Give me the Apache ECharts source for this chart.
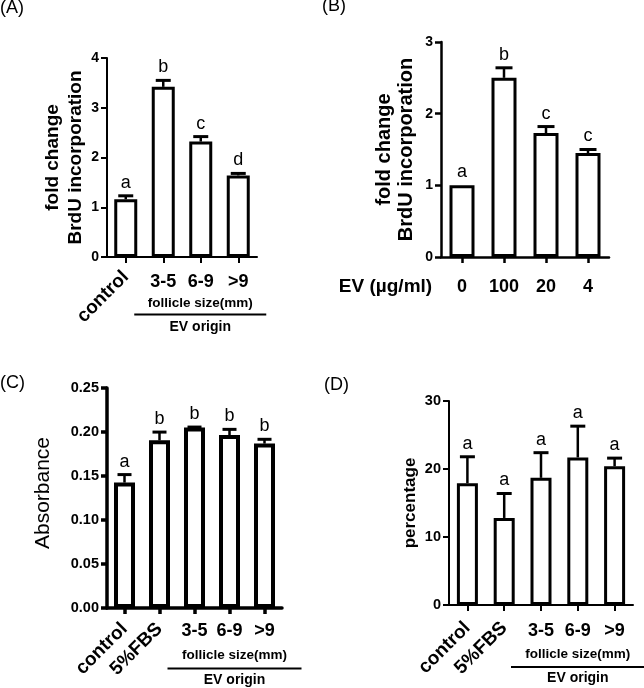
<!DOCTYPE html>
<html><head><meta charset="utf-8">
<script src="https://cdn.jsdelivr.net/npm/echarts@6/dist/echarts.min.js"></script>
<style>html,body{margin:0;padding:0;background:#fff}#c{width:644px;height:688px}</style>
</head><body><div id="c"></div>
<script>
// ---- data ----
const catsA = ['control','3-5','6-9','>9'];
const meanA = [1.16,3.42,2.32,1.64];
const errA  = [0.07,0.13,0.10,0.04];
const letA  = ['a','b','c','d'];

const catsB = ['0','100','20','4'];
const meanB = [1.00,2.50,1.73,1.45];
const errB  = [0,0.14,0.09,0.05];
const letB  = ['a','b','c','c'];

const catsC = ['control','5%FBS','3-5','6-9','>9'];
const meanC = [0.1425,0.1905,0.2050,0.1966,0.1868];
const errC  = [0.0091,0.0094,0.0006,0.0064,0.0049];
const letC  = ['a','b','b','b','b'];

const catsD = ['control','5%FBS','3-5','6-9','>9'];
const meanD = [17.9,12.8,18.7,21.7,20.4];
const errD  = [3.9,3.6,3.7,4.6,1.2];
const letD  = ['a','a','a','a','a'];

const rotatedCats = ['control','5%FBS'];
const FF = '"Liberation Sans", Arial, sans-serif';

// ---- helpers ----
function yAx(gi, max, interval, fmt, fs, lw, name, nameGap, nts) {
  return {type:'value', gridIndex:gi, min:0, max:max, interval:interval,
    splitLine:{show:false},
    axisLine:{show:true, lineStyle:{color:'#000', width:lw}},
    axisTick:{show:true, length:6, lineStyle:{color:'#000', width:lw}},
    axisLabel:{color:'#000', fontWeight:'bold', fontSize:fs, fontFamily:FF, margin:8, formatter:fmt},
    name:name, nameLocation:'middle', nameRotate:90, nameGap:nameGap,
    nameTextStyle:Object.assign({color:'#000', fontFamily:FF}, nts)};
}
function xPrim(gi, cats, lw, fs, margin, rot) {
  return {type:'category', gridIndex:gi, data:cats, position:'bottom', boundaryGap:true,
    axisLine:{show:true, lineStyle:{color:'#000', width:lw}},
    axisTick:{show:true, alignWithLabel:true, length:6, lineStyle:{color:'#000', width:lw}},
    axisLabel:{interval:0, rotate:rot ? 45 : 0, margin:margin, color:'#000', fontWeight:'bold', fontSize:fs, fontFamily:FF,
      formatter: rot ? (v => rotatedCats.includes(v) ? v : '') : (v => v)}};
}
function xSec(gi, cats, fs, margin) {
  return {type:'category', gridIndex:gi, data:cats, position:'bottom', boundaryGap:true,
    axisLine:{show:false}, axisTick:{show:false},
    axisLabel:{interval:0, margin:margin, color:'#000', fontWeight:'bold', fontSize:fs, fontFamily:FF,
      formatter: v => rotatedCats.includes(v) ? '' : v}};
}
function bars(xi, yi, means, bw, brw) {
  return {type:'bar', xAxisIndex:xi, yAxisIndex:yi, data:means, barWidth:bw, z:2,
    itemStyle:{color:'#fff', borderColor:'#000', borderWidth:brw}, silent:true};
}
function errs(xi, yi, means, e, letters, cap, fs) {
  return {type:'custom', xAxisIndex:xi, yAxisIndex:yi, z:3, clip:false, silent:true,
    data: means.map((m,i) => [i, m, m + e[i]]),
    renderItem: (params, api) => {
      const i = params.dataIndex;
      const p0 = api.coord([api.value(0), api.value(1)]);
      const p1 = api.coord([api.value(0), api.value(2)]);
      const ch = [];
      if (e[i] > 0) {
        ch.push({type:'line', shape:{x1:p0[0], y1:p0[1], x2:p1[0], y2:p1[1]}, style:{stroke:'#000', lineWidth:2.5}});
        ch.push({type:'line', shape:{x1:p1[0]-cap/2, y1:p1[1], x2:p1[0]+cap/2, y2:p1[1]}, style:{stroke:'#000', lineWidth:3}});
      }
      ch.push({type:'text', style:{x:p1[0], y:p1[1]-4, text:letters[i], align:'center', verticalAlign:'bottom',
        fontSize:fs, fontFamily:FF, fill:'#000'}});
      return {type:'group', children:ch};
    }};
}

const chart = echarts.init(document.getElementById('c'), null, {renderer:'canvas'});
chart.setOption({
  animation:false,
  backgroundColor:'#fff',
  grid:[
    {left:107, top:58, width:150, height:199},
    {left:441, top:42, width:168, height:215},
    {left:107, top:388, width:175, height:220},
    {left:449, top:401, width:184, height:204}
  ],
  xAxis:[
    xPrim(0, catsA, 2, 19, 17, true),
    xSec(0, catsA, 18, 16),
    xPrim(1, catsB, 2.5, 18, 21, false),
    xPrim(2, catsC, 3.5, 19, 18, true),
    xSec(2, catsC, 18, 14),
    xPrim(3, catsD, 2, 19, 20, true),
    xSec(3, catsD, 18, 17)
  ],
  yAxis:[
    yAx(0, 4, 1, v => v, 14, 2, 'fold change\nBrdU incorporation', 19, {fontSize:19, fontWeight:'bold', lineHeight:23}),
    yAx(1, 3, 1, v => v, 14, 2.5, 'fold change\nBrdU incorporation', 24, {fontSize:20, fontWeight:'bold', lineHeight:22}),
    yAx(2, 0.25, 0.05, v => v.toFixed(2), 14.5, 3.5, 'Absorbance', 53, {fontSize:21, fontWeight:'normal', padding:[0,0,0,10]}),
    yAx(3, 30, 10, v => v, 14.5, 2, 'percentage', 30, {fontSize:17, fontWeight:'bold'})
  ],
  series:[
    bars(0, 0, meanA, 23, 3), errs(0, 0, meanA, errA, letA, 15, 18),
    bars(2, 1, meanB, 25, 3), errs(2, 1, meanB, errB, letB, 17, 18),
    bars(3, 2, meanC, 21, 4), errs(3, 2, meanC, errC, letC, 14, 18),
    bars(5, 3, meanD, 21, 3), errs(5, 3, meanD, errD, letD, 15, 18)
  ]
});

// ---- annotations: panel tags, group brackets ----
function bracket(xi, yi, cats, padL, padR, dText, dLine, dEV) {
  const x1 = chart.convertToPixel({xAxisIndex:xi}, cats[cats.indexOf('3-5')]) - padL;
  const x2 = chart.convertToPixel({xAxisIndex:xi}, cats[cats.length-1]) + padR;
  const y0 = chart.convertToPixel({yAxisIndex:yi}, 0);
  const cx = (x1 + x2) / 2;
  return [
    {type:'text', style:{x:cx, y:y0+dText, text:'follicle size(mm)', align:'center', verticalAlign:'middle',
      fontSize:13.5, fontWeight:'bold', fontFamily:FF, fill:'#000'}},
    {type:'line', shape:{x1:x1, y1:y0+dLine, x2:x2, y2:y0+dLine}, style:{stroke:'#000', lineWidth:2}},
    {type:'text', style:{x:cx, y:y0+dEV, text:'EV origin', align:'center', verticalAlign:'middle',
      fontSize:14, fontWeight:'bold', fontFamily:FF, fill:'#000'}}
  ];
}
function tag(t, x, y) {
  return {type:'text', style:{x:x, y:y, text:t, fontSize:18, fontFamily:FF, fill:'#000', verticalAlign:'top'}};
}
const g = [].concat(
  bracket(0, 0, catsA, 29, 28, 46.5, 57.5, 70.5),
  bracket(4, 2, catsC, 27, 37, 47.5, 60.5, 72.5),
  bracket(6, 3, catsD, 30, 30, 49, 62, 73),
  [tag('(A)', 0, -1), tag('(B)', 322, -3), tag('(C)', 0, 374), tag('(D)', 324, 376),
   {type:'text', style:{x:385.5, y:287, text:'EV (µg/ml)', align:'center', verticalAlign:'middle',
     fontSize:19, fontWeight:'bold', fontFamily:FF, fill:'#000'}}]
);
chart.setOption({graphic:g});
</script>
</body></html>
